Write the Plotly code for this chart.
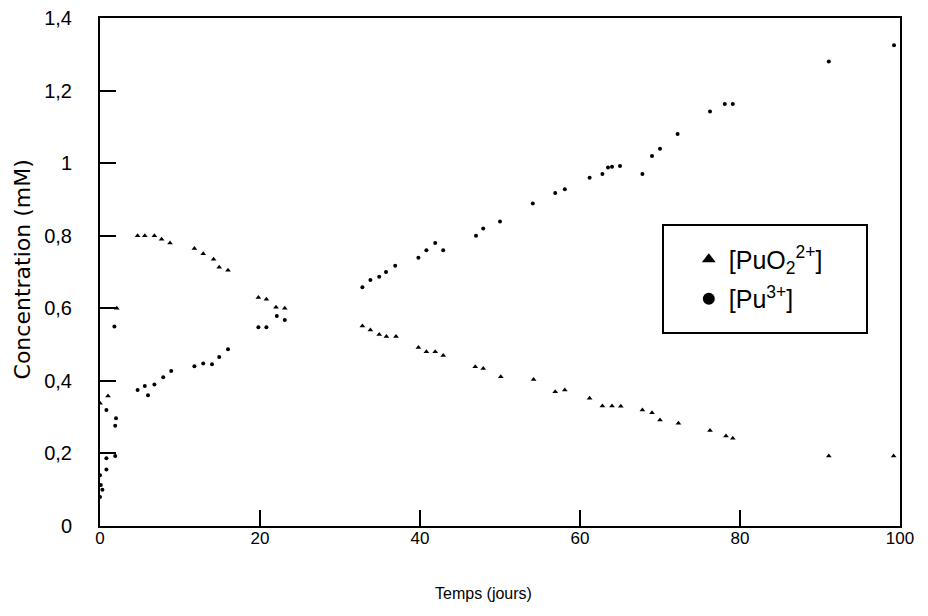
import plotly.graph_objects as go

# ---- data ----
t_puo2 = [0, 1.0, 2.1, 4.7, 5.6, 6.8, 7.7, 8.75, 11.8, 12.9, 14.2, 14.9, 16.0,
          19.8, 20.8, 22.0, 23.1, 32.8, 33.8, 34.9, 35.8, 37.0, 39.8, 40.8, 41.9,
          42.9, 46.9, 47.9, 50.1, 54.2, 56.9, 58.1, 61.2, 62.8, 64.0, 65.1, 67.8,
          69.0, 70.0, 72.3, 76.25, 78.25, 79.1, 91.1, 99.2]
c_puo2 = [0.338, 0.358, 0.60, 0.80, 0.80, 0.80, 0.79, 0.78, 0.765, 0.75, 0.735,
          0.713, 0.705, 0.63, 0.625, 0.603, 0.60, 0.551, 0.54, 0.528, 0.522, 0.522,
          0.492, 0.48, 0.48, 0.47, 0.439, 0.434, 0.411, 0.404, 0.37, 0.375, 0.352,
          0.331, 0.331, 0.33, 0.32, 0.312, 0.292, 0.283, 0.263, 0.248, 0.242,
          0.193, 0.193]

t_pu3 = [0, 0.3, 0.1, 0, 0.8, 0.8, 1.9, 0.8, 2.0, 1.9, 1.8, 4.7, 5.6, 6.0, 6.8,
         7.9, 8.9, 11.8, 12.9, 14.0, 14.9, 16.0, 19.8, 20.8, 22.1, 23.1, 32.8,
         33.8, 34.9, 35.75, 36.9, 39.8, 40.8, 41.9, 42.9, 47.0, 47.9, 50.0, 54.1,
         56.9, 58.1, 61.2, 62.8, 63.5, 64.0, 65.0, 67.8, 69.0, 70.0, 72.2, 76.25,
         78.1, 79.1, 91.1, 99.25]
c_pu3 = [0.08, 0.10, 0.113, 0.14, 0.156, 0.187, 0.193, 0.32, 0.297, 0.276, 0.55,
         0.375, 0.386, 0.36, 0.39, 0.41, 0.427, 0.44, 0.448, 0.446, 0.466, 0.487,
         0.548, 0.548, 0.579, 0.568, 0.658, 0.678, 0.687, 0.70, 0.717, 0.739, 0.76,
         0.78, 0.76, 0.80, 0.82, 0.839, 0.889, 0.918, 0.928, 0.96, 0.97, 0.988,
         0.99, 0.992, 0.97, 1.02, 1.04, 1.08, 1.142, 1.163, 1.163, 1.28, 1.325]

x_ticks = [0, 20, 40, 60, 80, 100]
x_ticklabels = ["0", "20", "40", "60", "80", "100"]
y_ticks = [0, 0.2, 0.4, 0.6, 0.8, 1.0, 1.2, 1.4]
y_ticklabels = ["0", "0,2", "0,4", "0,6", "0,8", "1", "1,2", "1,4"]

FONT = "Liberation Sans"

fig = go.Figure()
fig.add_trace(go.Scatter(
    x=t_puo2, y=c_puo2, mode="markers", name="[PuO<sub>2</sub><sup>2+</sup>]",
    legendgroup="a",
    marker=dict(symbol="triangle-up", size=5, color="black"),
))
fig.add_trace(go.Scatter(
    x=t_pu3, y=c_pu3, mode="markers", name="[Pu<sup>3+</sup>]",
    legendgroup="b",
    marker=dict(symbol="circle", size=4, color="black"),
))

axis_common = dict(
    showline=True, linecolor="black", linewidth=2, mirror=True,
    ticks="inside", ticklen=16, tickwidth=2, tickcolor="black",
    showgrid=False, zeroline=False, automargin=False,
)

fig.update_layout(
    width=928, height=616,
    margin=dict(l=100, r=28, t=18, b=90, autoexpand=False),
    paper_bgcolor="white", plot_bgcolor="white",
    showlegend=True,
    legend=dict(
        x=0.736, y=0.57, xanchor="left", yanchor="top",
        bgcolor="rgba(0,0,0,0)", borderwidth=0,
        font=dict(family=FONT, size=25, color="black"),
        itemsizing="constant", traceorder="grouped", tracegroupgap=4,
    ),
    xaxis=dict(range=[0, 100], tickvals=x_ticks, ticktext=x_ticklabels,
               ticklabelstandoff=-4,
               tickfont=dict(family=FONT, size=17, color="black"),
               **axis_common),
    yaxis=dict(range=[0, 1.4], tickvals=y_ticks, ticktext=y_ticklabels,
               ticklabelstandoff=22,
               tickfont=dict(family=FONT, size=20, color="black"),
               **axis_common),
    shapes=[dict(type="rect", xref="paper", yref="paper",
                 x0=0.70375, x1=0.95875, y0=0.38, y1=0.5925,
                 line=dict(color="black", width=2), fillcolor="rgba(0,0,0,0)")],
    annotations=[
        dict(text="Temps (jours)", xref="paper", yref="paper", x=0.479, y=-0.132,
             showarrow=False, xanchor="center", yanchor="middle",
             font=dict(family=FONT, size=16, color="black")),
        dict(text="Concentration (mM)", xref="paper", yref="paper", x=-0.0975,
             y=0.505, textangle=-90, showarrow=False, xanchor="center",
             yanchor="middle", font=dict(family="DejaVu Sans", size=22, color="black")),
    ],
)

fig.write_html("out.html", config={"displayModeBar": False},
               post_script="document.body.style.margin='0';")
